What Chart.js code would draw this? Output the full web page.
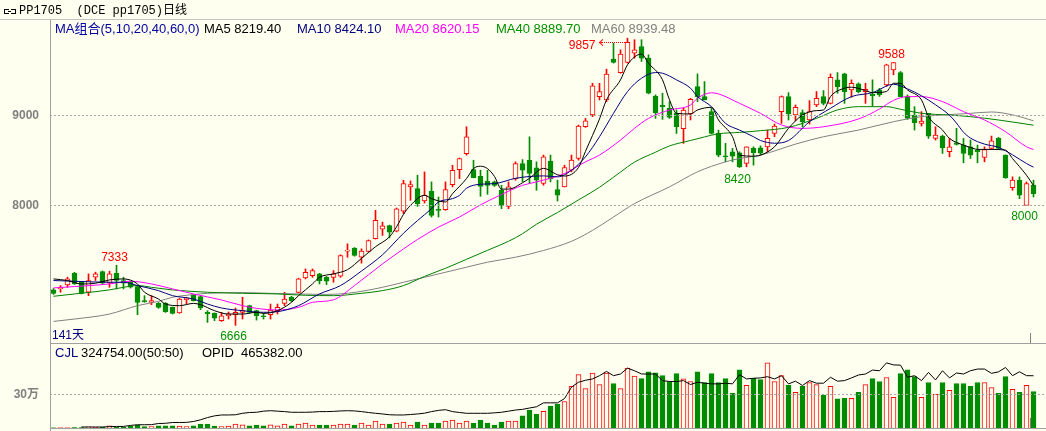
<!DOCTYPE html>
<html>
<head>
<meta charset="utf-8">
<title>PP1705</title>
<script src="https://cdn.jsdelivr.net/npm/chart.js@4.4.1/dist/chart.umd.min.js"></script>
<style>
  html, body { margin:0; padding:0; background:#FFFFF0; }
  #wrap { position:relative; width:1046px; height:431px; overflow:hidden; background:#FFFFF0;
          font-family:'Liberation Sans','Noto Sans CJK SC',sans-serif; }
  canvas { position:absolute; left:0; }
  .t { position:absolute; white-space:pre; font-size:13px; line-height:15px; }
  .s { font-size:12px; line-height:14px; }
  .hl { position:absolute; height:1px; background:#A0A0A0; }
  .vl { position:absolute; width:1px; background:#A0A0A0; }
  .dash { position:absolute; height:1px; background:repeating-linear-gradient(to right,#A8A8A8 0 2px,transparent 2px 4px); }
</style>
</head>
<body>
<div id="wrap">
  <canvas id="main" width="1046" height="323" style="top:20px"></canvas>
  <canvas id="vol" width="1046" height="88" style="top:343px"></canvas>
</div>
<script>
// ---------------- DATA ----------------
const open = [7060,7071,7115,7245,7145,7034,7201,7264,7138,7245, 7164,7145,7097,6941,6922,6911,6911,6866,6803,6952, 7004,6985,6811,6799,6718,6773,6785,6811,6885,6829, 6773,6785,6829,6911,6977,7033,7193,7219,7238,7200, 7200,7212,7490,7524,7423,7487,7628,7736,7776,7713, 7936,8204,8185,8048,8155,7950,7951,8230,8397,8575, 8397,8323,8267,8260,8167,7988,8297,8464,8501,8416, 8242,8491,8175,8204,8390,8520,8873,9003,9208,9171, 9624,9475,9587,9691,9765,9635,9215,9111,9078,9022, 8851,9015,9319,9208,9041,8799,8545,8595,8584,8465, 8632,8640,8650,8799,9041,9208,9003,9029,8948,9115, 9208,9133,9394,9460,9282,9349,9264,9234,9282,9338, 9505,9475,9208,9003,8910,9022,8743,8769,8595,8695, 8669,8650,8613,8531,8632,8743,8557,8197,8279,8000, 8223];
const high = [7075,7108,7201,7255,7150,7238,7257,7270,7268,7333, 7201,7155,7100,6996,6996,6920,6920,6870,6965,6978, 7010,6990,6829,6805,6811,6815,6859,6978,6890,6835, 6799,6903,6903,7034,6990,7190,7293,7293,7245,7210, 7275,7450,7572,7530,7516,7615,7944,7814,7780,7970, 8278,8271,8334,8371,8260,8092,8260,8445,8525,8873, 8501,8390,8390,8270,8222,8260,8483,8508,8761,8483, 8558,8558,8279,8446,8558,8892,8966,9356,9356,9513, 9802,9728,9857,9840,9840,9672,9227,9245,9152,9060, 9078,9189,9460,9375,9078,8836,8688,8632,8595,8650, 8650,8660,8836,8903,9215,9252,9115,9059,9163,9264, 9275,9460,9475,9468,9394,9360,9356,9394,9300,9568, 9588,9487,9227,9096,9041,9022,8873,8780,8743,8855, 8743,8725,8669,8650,8769,8755,8560,8316,8316,8260, 8279];
const low = [7010,7034,7089,7120,7015,6996,7164,7130,7089,7071, 7071,7080,6785,6922,6896,6855,6810,6792,6800,6903, 6935,6840,6699,6718,6710,6736,6666,6736,6800,6725, 6736,6736,6792,6885,6930,7025,7182,7200,7126,7119, 7145,7200,7423,7435,7357,7480,7625,7665,7639,7705, 7906,8055,7988,8025,7870,7870,7944,8204,8297,8557, 8305,8100,8122,8210,7963,7962,8278,8260,8241,8167, 8223,8260,8048,8204,8372,8502,8866,8985,9171,9152, 9580,9468,9580,9635,9598,9238,8966,8955,8966,8799, 8688,8948,9152,9171,8792,8539,8483,8483,8420,8428, 8446,8560,8595,8762,8910,8948,8940,8873,8903,9096, 9115,9126,9245,9133,9200,9250,9133,9104,9210,9320, 9450,9208,8955,8836,8881,8743,8725,8576,8539,8669, 8472,8520,8472,8483,8620,8620,8300,8167,8074,8000, 8093];
const close = [7022,7089,7182,7126,7022,7164,7238,7134,7238,7164, 7134,7089,6922,6930,6941,6866,6818,6799,6959,6967, 6941,6859,6792,6747,6773,6792,6811,6829,6811,6773, 6762,6837,6866,6959,6940,7182,7256,7275,7163,7156, 7238,7442,7495,7442,7490,7609,7832,7773,7702,7962, 8241,8230,8018,8111,7888,7943,8174,8390,8520,8761, 8308,8211,8222,8222,8000,8204,8464,8390,8353,8278, 8539,8297,8112,8420,8502,8881,8940,9327,9264,9457, 9587,9680,9810,9728,9635,9245,9029,9096,8977,8873, 9059,9178,9208,9171,8799,8557,8539,8546,8427,8650, 8584,8580,8743,8881,9208,9015,9089,8929,9041,9189, 9133,9423,9319,9264,9356,9264,9290,9215,9227,9561, 9587,9208,8966,8918,8936,8769,8780,8639,8650,8676, 8576,8557,8595,8620,8717,8632,8305,8279,8112,8242, 8130];
const volume = [2000,3000,3000,3000,4000,11000,5000,5000,20000,6000, 6000,14000,23000,12000,12000,20000,20000,20000,17000,12000, 20000,35000,35000,17000,12000,17000,35000,29000,20000,26000, 20000,29000,20000,35000,20000,35000,43000,26000,26000,26000, 26000,35000,35000,26000,43000,26000,61000,35000,35000,43000, 52000,26000,52000,26000,43000,43000,61000,70000,43000,61000, 43000,70000,43000,26000,52000,61000,61000,108000,160000,125000, 148000,195000,213000,236000,370000,475000,350000,490000,387000,490000, 396000,350000,533000,463000,440000,501000,492000,466000,414000,484000, 437000,414000,501000,405000,484000,405000,440000,312000,519000,379000, 443000,431000,580000,414000,466000,379000,318000,370000,405000,387000, 294000,370000,259000,265000,265000,318000,387000,440000,414000,449000, 274000,484000,519000,457000,274000,405000,300000,405000,335000,396000, 396000,370000,405000,405000,361000,309000,457000,344000,318000,379000, 324754];
const opid = [null,null,null,null,9000,9000,9000,9000,12000,14000, 14000,23000,29000,29000,30000,40000,42000,49000,49000,50000, 58000,73000,93000,108000,116000,116000,118000,131000,138000,140000, 150000,154000,150000,146000,140000,140000,140000,142000,146000,146000, 148000,152000,154000,152000,146000,138000,131000,125000,118000,116000, 116000,120000,125000,132000,146000,157000,163000,146000,138000,131000, 131000,131000,131000,135000,140000,150000,160000,166000,178000,189000, 224000,224000,224000,262000,364000,408000,425000,437000,466000,504000, 466000,481000,533000,510000,481000,481000,481000,422000,414000,414000, 422000,387000,408000,399000,393000,393000,399000,393000,475000,437000, 443000,446000,457000,437000,466000,393000,417000,379000,422000,399000, 399000,452000,417000,422000,446000,472000,481000,516000,510000,580000, 562000,560000,452000,466000,422000,495000,428000,510000,446000,490000, 481000,510000,525000,525000,487000,500000,539000,466000,501000,466000, 465382];
// moving-average lines as [day index, value]
const ma5Pts = [[0,7182],[2,7164],[4,7126],[6,7134],[8,7171],[10,7182],[12,7126],[13,7034],[15,6959],[16,6903],[18,6885],[20,6910],[21,6896],[23,6829],[25,6792],[27,6792],[29,6811],[30,6799],[32,6829],[34,6922],[35,6996],[37,7126],[38,7200],[40,7238],[42,7285],[44,7410],[46,7540],[48,7650],[49,7760],[50,7900],[51,8000],[53,8111],[54,8074],[56,8037],[57,8129],[59,8297],[60,8408],[61,8434],[62,8408],[63,8320],[64,8180],[65,8180],[67,8250],[68,8300],[70,8410],[72,8340],[73,8325],[75,8420],[76,8600],[78,8960],[79,9171],[81,9394],[82,9561],[84,9680],[85,9579],[87,9394],[88,9171],[89,9022],[91,9015],[92,9059],[94,9089],[95,8948],[97,8762],[98,8558],[100,8546],[101,8557],[103,8650],[105,8855],[107,9003],[109,9052],[110,9059],[111,9208],[113,9301],[114,9312],[116,9275],[117,9252],[119,9264],[120,9356],[121,9356],[122,9282],[124,9171],[125,8985],[127,8836],[128,8743],[130,8669],[131,8643],[132,8621],[134,8621],[136,8613],[137,8520],[139,8334],[140,8219]];
const ma10Pts = [[0,7164],[3,7156],[8,7145],[10,7145],[12,7108],[15,7052],[17,6996],[20,6959],[22,6903],[24,6859],[27,6829],[30,6811],[32,6818],[35,6885],[38,7015],[41,7108],[44,7270],[47,7450],[50,7690],[52,7830],[54,7962],[55,8037],[57,8074],[58,8111],[59,8190],[61,8234],[63,8241],[66,8300],[68,8320],[70,8327],[72,8316],[74,8390],[76,8539],[78,8762],[80,9022],[82,9264],[84,9412],[86,9475],[87,9468],[89,9394],[91,9301],[92,9208],[94,9096],[96,8911],[98,8836],[100,8762],[101,8720],[103,8690],[105,8720],[108,8929],[111,9078],[114,9208],[117,9252],[120,9345],[122,9294],[124,9217],[126,9117],[128,9001],[129,8913],[130,8812],[131,8747],[133,8680],[135,8644],[137,8561],[139,8464],[140,8424]];
const ma20Pts = [[0,7082],[3,7097],[8,7126],[11,7156],[14,7126],[17,7071],[20,7015],[24,6948],[27,6885],[29,6855],[32,6837],[35,6866],[37,6922],[40,6950],[43,7108],[47,7349],[50,7516],[52,7620],[55,7758],[58,7870],[61,8005],[64,8120],[67,8222],[69,8260],[73,8353],[76,8483],[78,8558],[81,8725],[83,8855],[85,8966],[88,9059],[91,9115],[92,9190],[94,9250],[95,9238],[98,9133],[101,9022],[104,8892],[107,8855],[110,8873],[115,8959],[118,9070],[120,9166],[122,9208],[124,9208],[127,9152],[130,9041],[133,8948],[136,8818],[139,8650],[140,8620]];
const ma40Pts = [[0,6989],[3,7015],[8,7060],[10,7089],[12,7108],[14,7089],[17,7060],[22,7034],[27,7022],[32,7015],[36,7000],[40,6996],[44,7022],[47,7052],[50,7108],[53,7210],[56,7300],[59,7400],[62,7500],[65,7600],[67,7684],[69,7790],[72,7920],[75,8060],[78,8200],[81,8370],[83,8480],[86,8590],[88,8660],[91,8720],[93,8760],[95,8795],[98,8810],[101,8829],[105,8866],[109,8966],[112,9060],[115,9096],[119,9096],[121,9067],[124,9022],[128,9003],[131,8985],[135,8948],[140,8890]];
const ma60Pts = [[0,6710],[3,6736],[8,6792],[12,6885],[15,6933],[17,6978],[20,7008],[22,7022],[27,7030],[31,7022],[35,7015],[39,7010],[42,7022],[47,7089],[50,7145],[53,7200],[56,7256],[59,7312],[62,7368],[66,7423],[70,7498],[74,7600],[77,7721],[80,7870],[83,8019],[88,8205],[92,8372],[96,8483],[98,8520],[101,8558],[106,8680],[110,8762],[115,8836],[120,8929],[124,8985],[127,9003],[131,9022],[134,9037],[137,9005],[140,8939]];
const maNames = ['MA5','MA10','MA20','MA40','MA60'];
const maLegend = ['8219.40','8424.10','8620.15','8889.70','8939.48'];
const priceTicks = [8000, 9000];
const volTicks = [300000];
const volTickLabel = '30万';
// marked extremes: [day index, value, 'above' | 'below']
const marks = [[9,7333,'above'],[26,6666,'below'],[98,8420,'below'],[120,9588,'above'],[139,8000,'below']];
const peakMark = [82, 9857];

// ---------------- COLOURS ----------------
const BG = '#FFFFF0', UP = '#FF0000', DOWN = '#008C00';
const maColors = ['#000000','#000080','#FF00FF','#008000','#808080'];
const maTextColors = ['#000000','#000080','#FF00FF','#009000','#808080'];

// ---------------- BUILD ----------------
const N = close.length;
const days = close.map((_, i) => 'D' + (i + 1));
const isUp = close.map((c, i) => c >= open[i]);
function spread(pts) { const a = new Array(N).fill(null); pts.forEach(([i, v]) => { a[i] = v; }); return a; }
const maSeries = [ma5Pts, ma10Pts, ma20Pts, ma40Pts, ma60Pts].map(spread);

Chart.defaults.font.family = "'Liberation Sans','Noto Sans CJK SC',sans-serif";

function maLine(k) {
  return { type: 'line', label: maNames[k], data: maSeries[k], borderColor: maColors[k], borderWidth: 1,
           pointRadius: 0, spanGaps: true, cubicInterpolationMode: 'monotone', fill: false };
}
function yAxisFit(s) { s.width = 50; s.paddingTop = 0; s.paddingBottom = 0; }

const mainChart = new Chart(document.getElementById('main'), {
  type: 'bar',
  data: {
    labels: days,
    datasets: [
      maLine(0), maLine(1), maLine(2), maLine(3), maLine(4),
      { label: 'body', data: open.map((o, i) => [o, close[i]]),
        backgroundColor: isUp.map(u => u ? BG : DOWN), borderColor: isUp.map(u => u ? UP : DOWN),
        borderWidth: 1, borderSkipped: false, barThickness: 5, minBarLength: 1, grouped: false },
      { label: 'wick', data: low.map((l, i) => [l, high[i]]),
        backgroundColor: isUp.map(u => u ? UP : DOWN), borderWidth: 0, barThickness: 1, minBarLength: 1, grouped: false }
    ]
  },
  options: {
    responsive: false, animation: false, devicePixelRatio: 1,
    layout: { padding: { left: 0, right: 9, top: 0, bottom: 0 } },
    plugins: { legend: { display: false }, tooltip: { enabled: false } },
    scales: {
      x: { display: false, offset: true },
      y: { min: 6470, max: 10059,
           afterBuildTicks: s => { s.ticks = priceTicks.map(v => ({ value: v })); },
           afterFit: yAxisFit,
           ticks: { color: '#808080', font: { size: 12, weight: 'bold' }, padding: 3, callback: v => String(v) },
           grid: { display: false }, border: { display: false } }
    }
  }
});

const volChart = new Chart(document.getElementById('vol'), {
  type: 'bar',
  data: {
    labels: days,
    datasets: [
      { type: 'line', label: 'OPID', data: opid, borderColor: '#000000', borderWidth: 1, pointRadius: 0, spanGaps: false, fill: false },
      { label: 'CJL', data: volume,
        backgroundColor: isUp.map(u => u ? BG : DOWN), borderColor: isUp.map(u => u ? UP : DOWN),
        borderWidth: 1, barThickness: 5, grouped: false }
    ]
  },
  options: {
    responsive: false, animation: false, devicePixelRatio: 1,
    layout: { padding: { left: 0, right: 9, top: 0, bottom: 3 } },
    plugins: { legend: { display: false }, tooltip: { enabled: false } },
    scales: {
      x: { display: false, offset: true },
      y: { min: 0, max: 757000,
           afterBuildTicks: s => { s.ticks = volTicks.map(v => ({ value: v })); },
           afterFit: yAxisFit,
           ticks: { color: '#808080', font: { size: 12, weight: 'bold' }, padding: 3, callback: () => volTickLabel },
           grid: { display: false }, border: { display: false } }
    }
  }
});

// ---------------- FRAME, GRID & TEXT ----------------
const wrap = document.getElementById('wrap');
function el(cls, css) { const d = document.createElement('div'); d.className = cls; Object.assign(d.style, css); wrap.appendChild(d); return d; }
function txt(s, x, baseline, color, o = {}) {
  const d = document.createElement('div');
  d.className = 't' + (o.small ? ' s' : '');
  d.textContent = s; d.style.color = color;
  d.style.top = (baseline - (o.small ? 11 : 12)) + 'px';
  if (o.center) { d.style.left = x + 'px'; d.style.transform = 'translateX(-50%)'; }
  else if (o.right) { d.style.right = (1046 - x) + 'px'; }
  else d.style.left = x + 'px';
  if (o.font) d.style.fontFamily = o.font;
  wrap.appendChild(d); return d;
}
const xs = mainChart.scales.x, ys = mainChart.scales.y, vs = volChart.scales.y;
const X = i => xs.getPixelForValue(i);
const Y = p => ys.getPixelForValue(p) + 20;
const VY = v => vs.getPixelForValue(v) + 343;

priceTicks.forEach(v => el('dash', { left: '50px', width: '996px', top: Math.floor(Y(v)) + 'px' }));
volTicks.forEach(v => el('dash', { left: '50px', width: '996px', top: Math.floor(VY(v)) + 'px' }));

el('hl', { left: '0px', width: '1046px', top: '19px', background: '#C4C4C4' });
el('vl', { left: '50px', top: '20px', height: '411px' });
el('hl', { left: '50px', width: '996px', top: '343px' });
el('hl', { left: '50px', width: '996px', top: '428px' });
el('vl', { left: '1030px', top: '333px', height: '10px', background: '#808080' });
el('vl', { left: '1030px', top: '418px', height: '10px', background: '#808080' });

// title icon + title
el('icon', { position: 'absolute', left: '4px', top: '9px', width: '4px', height: '3px', border: '1px solid #000', borderRight: 'none' });
el('icon', { position: 'absolute', left: '8px', top: '10.5px', width: '3px', height: '1px', background: '#000' });
el('icon', { position: 'absolute', left: '11px', top: '9px', width: '4px', height: '3px', border: '1px solid #000', borderLeft: 'none' });
txt('PP1705  (DCE pp1705)日线', 19, 15, '#000000', { small: true, font: "'Liberation Mono','Noto Sans CJK SC',monospace" });

// MA legend
txt('MA组合(5,10,20,40,60,0)', 55, 33, '#0000A0');
const legX = [204, 297, 395, 496, 591];
maNames.forEach((n, k) => txt(n + ' ' + maLegend[k], legX[k], 33, maTextColors[k]));

// volume legend
txt('CJL', 55, 357, '#000080');
txt(volume[N - 1].toFixed(2) + '(50:50)', 81, 357, '#000000');
txt('OPID', 202, 357, '#000000');
txt(opid[N - 1].toFixed(2), 241, 357, '#000000');

txt(N + '天', 52, 339, '#000080', { small: true });

// extreme marks
marks.forEach(([i, v, pos]) => {
  const above = pos === 'above';
  txt(String(v), X(i) - 2, above ? Y(v) - 4 : Y(v) + 15, above ? '#FF0000' : '#009000', { small: true, center: true });
});
const px = X(peakMark[0]), py = Y(peakMark[1]);
txt(String(peakMark[1]), px - 32, py + 10.5, '#FF0000', { small: true, right: true });
el('arrow', { position: 'absolute', left: (px - 28) + 'px', top: (py + 2) + 'px', width: '4px', height: '4px',
              borderLeft: '1px solid #FF0000', borderTop: '1px solid #FF0000', transform: 'rotate(-45deg)' });
el('dot', { position: 'absolute', left: (px - 27) + 'px', width: '26px', top: (py + 4) + 'px', height: '0px', borderTop: '1px dotted #FF0000' });
</script>
</body>
</html>
